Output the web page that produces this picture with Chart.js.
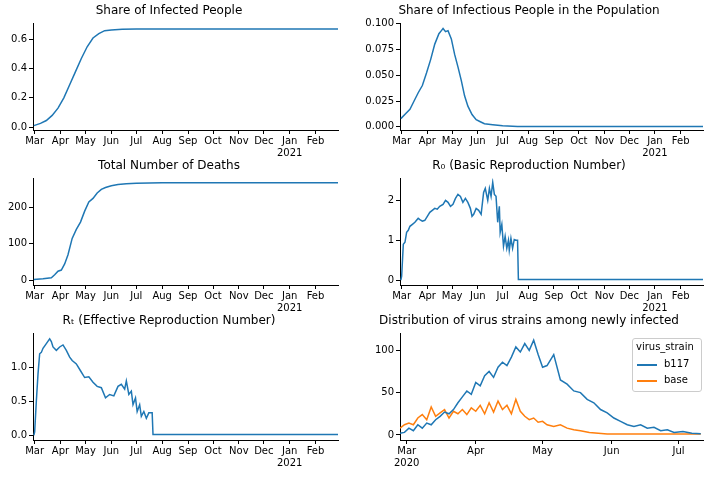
<!DOCTYPE html>
<html>
<head>
<meta charset="utf-8">
<script src="https://cdn.jsdelivr.net/npm/chart.js@4/dist/chart.umd.min.js"></script>
<style>
  body { margin: 0; background: #fff; width: 710px; height: 479px; position: relative; overflow: hidden; font-family: 'DejaVu Sans'; }
  .p { position: absolute; width: 355px; height: 160px; }
  #legend { position: absolute; left: 632px; top: 338px; width: 68px; height: 52px; border: 1px solid #ccc; border-radius: 3px; background: rgba(255,255,255,0.8); font-size: 10px; }
  #legend div { position: absolute; white-space: nowrap; }
  #legend .sw { position: absolute; width: 20px; height: 2px; }
</style>
</head>
<body>
<div class="p" style="left:0;top:0"><canvas id="c1"></canvas></div>
<div class="p" style="left:355px;top:0"><canvas id="c2"></canvas></div>
<div class="p" style="left:0;top:155px"><canvas id="c3"></canvas></div>
<div class="p" style="left:355px;top:155px"><canvas id="c4"></canvas></div>
<div class="p" style="left:0;top:310px"><canvas id="c5"></canvas></div>
<div class="p" style="left:355px;top:310px"><canvas id="c6"></canvas></div>
<div id="legend"></div>
<script>
// days since 2020-03-01
const monthDays = [0, 31, 61, 92, 122, 153, 184, 214, 245, 275, 306, 337];
const monthLabels = ['Mar', 'Apr', 'May', 'Jun', 'Jul', 'Aug', 'Sep', 'Oct', 'Nov', 'Dec', ['Jan', '2021'], 'Feb'];
const strainMonthDays = [0, 31, 61, 92, 122];
const strainMonthLabels = [['Mar', '2020'], 'Apr', 'May', 'Jun', 'Jul'];

const infectedDays = [-1, 7, 14, 21, 28, 35, 42, 49, 56, 63, 70, 77, 84, 92, 105, 122, 200, 364];
const infectedShare = [0.01, 0.025, 0.045, 0.08, 0.13, 0.2, 0.29, 0.38, 0.47, 0.55, 0.61, 0.64, 0.66, 0.665, 0.67, 0.672, 0.672, 0.672];

const infectiousDays = [-1, 5, 10, 15, 20, 25, 30, 35, 40, 45, 48, 50, 53, 56, 60, 64, 68, 72, 76, 80, 85, 90, 95, 100, 110, 122, 140, 160, 364];
const infectiousShare = [0.008, 0.013, 0.017, 0.025, 0.033, 0.04, 0.052, 0.065, 0.08, 0.09, 0.093, 0.095, 0.092, 0.093, 0.085, 0.07, 0.058, 0.045, 0.03, 0.02, 0.012, 0.007, 0.005, 0.003, 0.002, 0.001, 0.0005, 0.0003, 0.0003];

const deathDays = [-1, 10, 20, 24, 28, 32, 36, 40, 45, 50, 55, 60, 65, 70, 75, 80, 85, 92, 100, 110, 122, 153, 364];
const deaths = [2, 4, 7, 15, 25, 28, 45, 70, 115, 140, 160, 190, 215, 225, 240, 250, 255, 260, 263, 265, 267, 268, 268];

const r0Days = [-1, 0, 1, 2, 4, 6, 8, 10, 13, 16, 18, 20, 22, 25, 28, 31, 34, 37, 40, 43, 46, 50, 53, 56, 59, 62, 65, 68, 71, 74, 77, 80, 83, 85, 87, 90, 93, 96, 99, 101, 104, 106, 108, 110, 112, 114, 116, 118, 119, 121, 123, 125, 127, 129, 130, 132, 134, 136, 138, 140, 141, 364];
const r0 = [0, 0.1, 0.5, 0.9, 0.95, 1.2, 1.25, 1.35, 1.4, 1.45, 1.5, 1.55, 1.52, 1.48, 1.5, 1.6, 1.7, 1.75, 1.8, 1.78, 1.85, 1.9, 2.0, 1.95, 1.85, 1.9, 2.05, 2.15, 2.1, 1.95, 2.05, 1.95, 1.8, 1.6, 1.65, 1.8, 1.75, 1.65, 2.2, 2.3, 2.0, 2.3, 2.1, 2.45, 2.15, 2.1, 1.45, 1.85, 1.2, 1.4, 0.85, 1.1, 0.8, 1.0, 0.75, 1.05, 0.8, 1.02, 1.0, 1.0, 0.02, 0.02];

const rtDays = [-1, 0, 2, 4, 6, 8, 10, 14, 18, 20, 22, 26, 30, 34, 38, 42, 45, 50, 55, 60, 65, 70, 75, 80, 85, 90, 95, 100, 104, 108, 110, 113, 116, 118, 121, 123, 126, 128, 131, 134, 137, 141, 142, 364];
const rt = [0, 0.05, 0.5, 0.9, 1.2, 1.22, 1.28, 1.35, 1.42, 1.38, 1.3, 1.25, 1.3, 1.33, 1.25, 1.15, 1.1, 1.05, 0.95, 0.85, 0.86, 0.78, 0.72, 0.7, 0.55, 0.6, 0.58, 0.72, 0.75, 0.68, 0.8, 0.6, 0.65, 0.45, 0.55, 0.35, 0.45, 0.28, 0.35, 0.25, 0.33, 0.33, 0.01, 0.01];

const b117Days = [-3, -1, 1, 3, 5, 7, 9, 11, 13, 15, 17, 19, 21, 23, 25, 27, 29, 31, 33, 35, 37, 39, 41, 43, 45, 47, 49, 51, 53, 55, 57, 59, 61, 63, 66, 69, 72, 75, 78, 81, 84, 87, 90, 93, 96, 99, 102, 105, 108, 111, 114, 117, 120, 124, 128, 132];
const b117 = [2, 3, 8, 5, 12, 8, 14, 12, 18, 22, 27, 25, 30, 38, 45, 52, 48, 62, 58, 70, 75, 68, 80, 86, 82, 92, 104, 98, 108, 100, 112, 95, 80, 82, 95, 65, 60, 52, 50, 42, 38, 30, 26, 20, 16, 12, 10, 12, 8, 9, 5, 6, 3, 4, 2, 1.5];
const baseDays = [-3, -1, 1, 3, 5, 7, 9, 11, 13, 15, 17, 19, 21, 23, 25, 27, 29, 31, 33, 35, 37, 39, 41, 43, 45, 47, 49, 51, 53, 55, 57, 59, 61, 63, 66, 69, 72, 75, 78, 82, 86, 90, 95, 100, 110, 120, 132];
const base = [8, 12, 14, 12, 20, 24, 18, 33, 22, 26, 30, 20, 28, 25, 30, 24, 32, 28, 35, 25, 38, 27, 40, 30, 35, 25, 42, 28, 22, 18, 20, 15, 16, 12, 10, 12, 8, 6, 5, 3, 2, 1, 1, 1, 1, 1, 1];

const strainNames = ['b117', 'base'];
const blue = '#1f77b4';
const orange = '#ff7f0e';
Chart.defaults.font.family = 'DejaVu Sans';
Chart.defaults.font.size = 10;
Chart.defaults.color = '#000';

function pts(xs, ys) { return xs.map((x, i) => ({ x, y: ys[i] })); }

function makeChart(id, title, datasets, opts) {
  const leftPanel = id === 'c1' || id === 'c3' || id === 'c5';
  return new Chart(document.getElementById(id), {
    type: 'line',
    data: { datasets },
    options: {
      animation: false,
      responsive: true,
      maintainAspectRatio: false,
      layout: { padding: { right: leftPanel ? 17 : 7, top: 0, bottom: 0 } },
      elements: { point: { radius: 0 }, line: { borderWidth: 1.5, tension: 0 } },
      plugins: {
        title: { display: true, text: title, font: { size: 12, weight: 'normal' }, padding: { top: 4, bottom: 5 }, color: '#000' },
        legend: { display: false },
        tooltip: { enabled: false }
      },
      scales: {
        x: {
          type: 'linear', min: opts.xmin, max: opts.xmax,
          grid: { drawOnChartArea: false, tickLength: 4, color: '#000' },
          border: { color: '#000' },
          afterBuildTicks: a => { a.ticks = opts.xt.map(v => ({ value: v })); },
          ticks: { autoSkip: false, maxRotation: 0, padding: 1, callback: (v) => opts.xl[opts.xt.indexOf(v)] },
          afterFit: a => { a.height = 30; }
        },
        y: {
          min: opts.ymin, max: opts.ymax,
          grid: { drawOnChartArea: false, tickLength: 4, color: '#000' },
          border: { color: '#000' },
          afterBuildTicks: a => { a.ticks = opts.yt.map(v => ({ value: v })); },
          ticks: { padding: 2, callback: v => v.toFixed(opts.dec) },
          afterFit: a => { a.width = leftPanel ? 33 : 45; }
        }
      }
    }
  });
}

const line = (d, c, label) => ({ label, data: d, borderColor: c, backgroundColor: c, fill: false });
const yearAxis = { xmin: -2, xmax: 364, xt: monthDays, xl: monthLabels };

makeChart('c1', 'Share of Infected People', [line(pts(infectedDays, infectedShare), blue)],
  { ...yearAxis, ymin: -0.02, ymax: 0.71, yt: [0, 0.2, 0.4, 0.6], dec: 1 });
makeChart('c2', 'Share of Infectious People in the Population', [line(pts(infectiousDays, infectiousShare), blue)],
  { ...yearAxis, ymin: -0.003, ymax: 0.1, yt: [0, 0.025, 0.05, 0.075, 0.1], dec: 3 });
makeChart('c3', 'Total Number of Deaths', [line(pts(deathDays, deaths), blue)],
  { ...yearAxis, ymin: -13, ymax: 280, yt: [0, 100, 200], dec: 0 });
makeChart('c4', 'R₀ (Basic Reproduction Number)', [line(pts(r0Days, r0), blue)],
  { ...yearAxis, ymin: -0.12, ymax: 2.55, yt: [0, 1, 2], dec: 0 });
makeChart('c5', 'Rₜ (Effective Reproduction Number)', [line(pts(rtDays, rt), blue)],
  { ...yearAxis, ymin: -0.07, ymax: 1.5, yt: [0, 0.5, 1.0], dec: 1 });
const strainChart = makeChart('c6', 'Distribution of virus strains among newly infected',
  [line(pts(b117Days, b117), blue, strainNames[0]), line(pts(baseDays, base), orange, strainNames[1])],
  { xmin: -3, xmax: 133, xt: strainMonthDays, xl: strainMonthLabels, ymin: -6, ymax: 120, yt: [0, 50, 100], dec: 0 });

// matplotlib-style legend box drawn from the chart's datasets
const lg = document.getElementById('legend');
let html = '<div style="left:3px;top:2px">virus_strain</div>';
strainChart.data.datasets.forEach((ds, i) => {
  const top = 19 + i * 16;
  html += `<span class="sw" style="left:4px;top:${top + 6}px;background:${ds.borderColor}"></span>`;
  html += `<div style="left:31px;top:${top}px">${ds.label}</div>`;
});
lg.innerHTML = html;
</script>
</body>
</html>
